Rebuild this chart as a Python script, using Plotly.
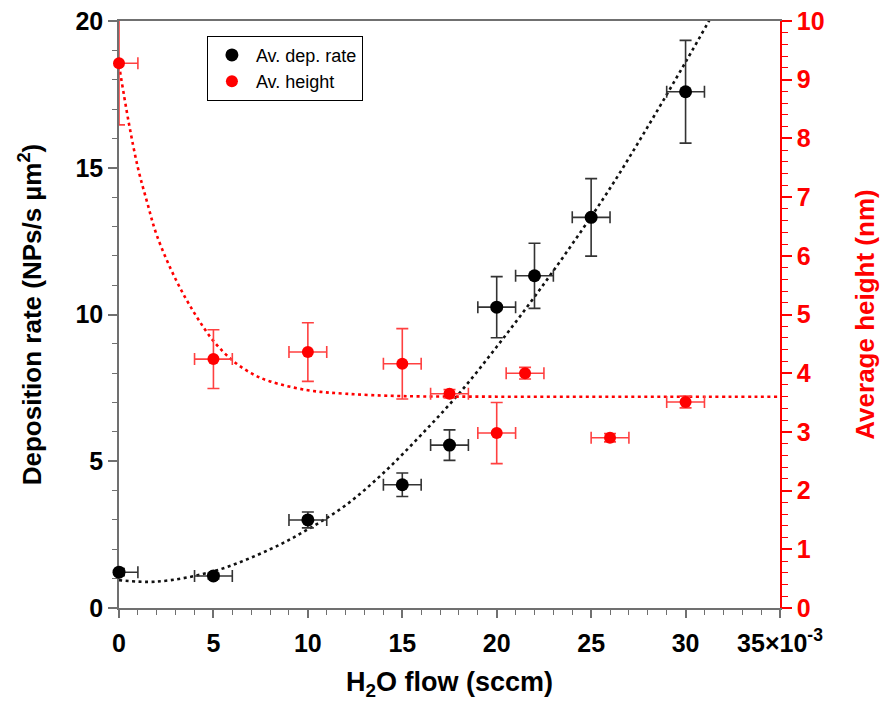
import plotly.graph_objects as go

# ---- data ----
rate_x = [0, 5, 10, 15, 17.5, 20, 22, 25, 30]
rate_y = [1.22, 1.09, 3.0, 4.2, 5.55, 10.25, 11.32, 13.31, 17.59]
rate_yerr = [0.12, 0.1, 0.27, 0.4, 0.52, 1.04, 1.11, 1.32, 1.75]
rate_xerr_plus = [1, 1, 1, 1, 1, 1, 1, 1, 1]
rate_xerr_minus = [0, 1, 1, 1, 1, 1, 1, 1, 1]

height_x = [0, 5, 10, 15, 17.5, 20, 21.5, 26, 30]
height_y = [9.28, 4.24, 4.36, 4.16, 3.65, 2.98, 4.0, 2.9, 3.51]
height_yerr = [1.05, 0.5, 0.5, 0.6, 0.07, 0.52, 0.1, 0.07, 0.1]
height_xerr_plus = [1, 1, 1, 1, 1, 1, 1, 1, 1]
height_xerr_minus = [0, 1, 1, 1, 1, 1, 1, 1, 1]

# fit curves
rate_fit_x = [0, 2, 5, 8, 10, 12, 14, 16, 18, 20, 22, 24, 26, 28, 30, 31.5]
rate_fit_y = [0.95, 0.9, 1.25, 2.0, 2.68, 3.5, 4.6, 5.9, 7.3, 8.9, 10.6, 12.4, 14.3, 16.4, 18.6, 20.3]

height_fit_x = [0, 0.5, 1, 1.5, 2, 3, 4, 5, 6, 7, 8, 10, 12, 15, 20, 25, 30, 35]
height_fit_y = [9.25, 8.3, 7.5, 6.9, 6.35, 5.6, 5.02, 4.55, 4.22, 4.0, 3.86, 3.71, 3.65, 3.61, 3.6, 3.6, 3.6, 3.6]

x_tickvals = [0, 5, 10, 15, 20, 25, 30, 35]
x_ticktext = ["0", "5", "10", "15", "20", "25", "30", "35×10<sup>-3</sup>"]

FONT = "Liberation Sans, Arial, sans-serif"
RED = "#ff0000"
AXGRAY = "#707070"

fig = go.Figure()

fig.add_trace(go.Scatter(
    x=rate_fit_x, y=rate_fit_y, mode="lines", line_shape="spline",
    line=dict(color="#111111", width=2.6, dash="3px,3.5px"),
    showlegend=False, hoverinfo="skip"))

fig.add_trace(go.Scatter(
    x=height_fit_x, y=height_fit_y, yaxis="y2", mode="lines", line_shape="spline",
    line=dict(color=RED, width=2.6, dash="3px,3.5px"),
    showlegend=False, hoverinfo="skip"))

fig.add_trace(go.Scatter(
    x=rate_x, y=rate_y, mode="markers", name="Av. dep. rate",
    marker=dict(color="black", size=13),
    error_y=dict(type="data", array=rate_yerr, color="#333333", thickness=1.6, width=6),
    error_x=dict(type="data", array=rate_xerr_plus, arrayminus=rate_xerr_minus,
                 color="#333333", thickness=1.6, width=6),
    cliponaxis=False))

fig.add_trace(go.Scatter(
    x=height_x, y=height_y, yaxis="y2", mode="markers", name="Av. height",
    marker=dict(color=RED, size=12),
    error_y=dict(type="data", array=height_yerr, color="#ff4040", thickness=1.6, width=6),
    error_x=dict(type="data", array=height_xerr_plus, arrayminus=height_xerr_minus,
                 color="#ff4040", thickness=1.6, width=6),
    cliponaxis=False))

fig.update_layout(
    width=880, height=701,
    margin=dict(l=119, r=100, t=21, b=93, autoexpand=False),
    paper_bgcolor="white", plot_bgcolor="white",
    font=dict(family=FONT, color="black"),
    showlegend=True,
    legend=dict(x=0.133, y=0.975, xanchor="left", yanchor="top",
                bgcolor="white", bordercolor="black", borderwidth=1,
                font=dict(family=FONT, size=18, color="black"),
                itemwidth=38, tracegroupgap=0),
    xaxis=dict(
        range=[0, 35], tickmode="array", tickvals=x_tickvals, ticktext=x_ticktext,
        ticks="outside", ticklen=8, tickwidth=1.5, tickcolor=AXGRAY,
        minor=dict(dtick=1, ticks="outside", ticklen=5, tickwidth=1.2, tickcolor=AXGRAY),
        showline=True, linecolor=AXGRAY, linewidth=1.5, mirror=True,
        showgrid=False, zeroline=False, layer="below traces", automargin=False,
        ticklabelstandoff=4, ticklabeloverflow="allow",
        tickfont=dict(family=FONT, size=25, color="black", weight="bold"),
        title=dict(text="H<sub>2</sub>O flow (sccm)", standoff=28,
                   font=dict(family=FONT, size=27, color="black", weight="bold"))),
    yaxis=dict(
        range=[0, 20], tickmode="linear", tick0=0, dtick=5,
        ticks="outside", ticklen=9, tickwidth=1.5, tickcolor=AXGRAY,
        minor=dict(dtick=1, ticks="outside", ticklen=5, tickwidth=1.2, tickcolor=AXGRAY),
        showline=True, linecolor=AXGRAY, linewidth=1.5,
        showgrid=False, zeroline=False, layer="below traces", automargin=False,
        ticklabeloverflow="allow",
        tickfont=dict(family=FONT, size=25, color="black", weight="bold"),
        title=dict(text="Deposition rate (NPs/s µm<sup>2</sup>)", standoff=26,
                   font=dict(family=FONT, size=26, color="black", weight="bold"))),
    yaxis2=dict(
        range=[0, 10], overlaying="y", side="right", anchor="x",
        tickmode="linear", tick0=0, dtick=1,
        ticks="outside", ticklen=10, tickwidth=1.5, tickcolor=RED,
        minor=dict(dtick=0.2, ticks="outside", ticklen=6, tickwidth=1.2, tickcolor=RED),
        showline=True, linecolor=RED, linewidth=1.5,
        showgrid=False, zeroline=False, layer="below traces", automargin=False,
        ticklabeloverflow="allow",
        tickfont=dict(family=FONT, size=25, color=RED, weight="bold"),
        title=dict(text="Average height (nm)", standoff=44,
                   font=dict(family=FONT, size=26, color=RED, weight="bold"))),
)

# remove the default 8px page margin so the 880x701 figure fills the window exactly
fig.write_html("out.html", config={"displayModeBar": False},
               post_script="document.body.style.margin='0';document.body.style.overflow='hidden';")
